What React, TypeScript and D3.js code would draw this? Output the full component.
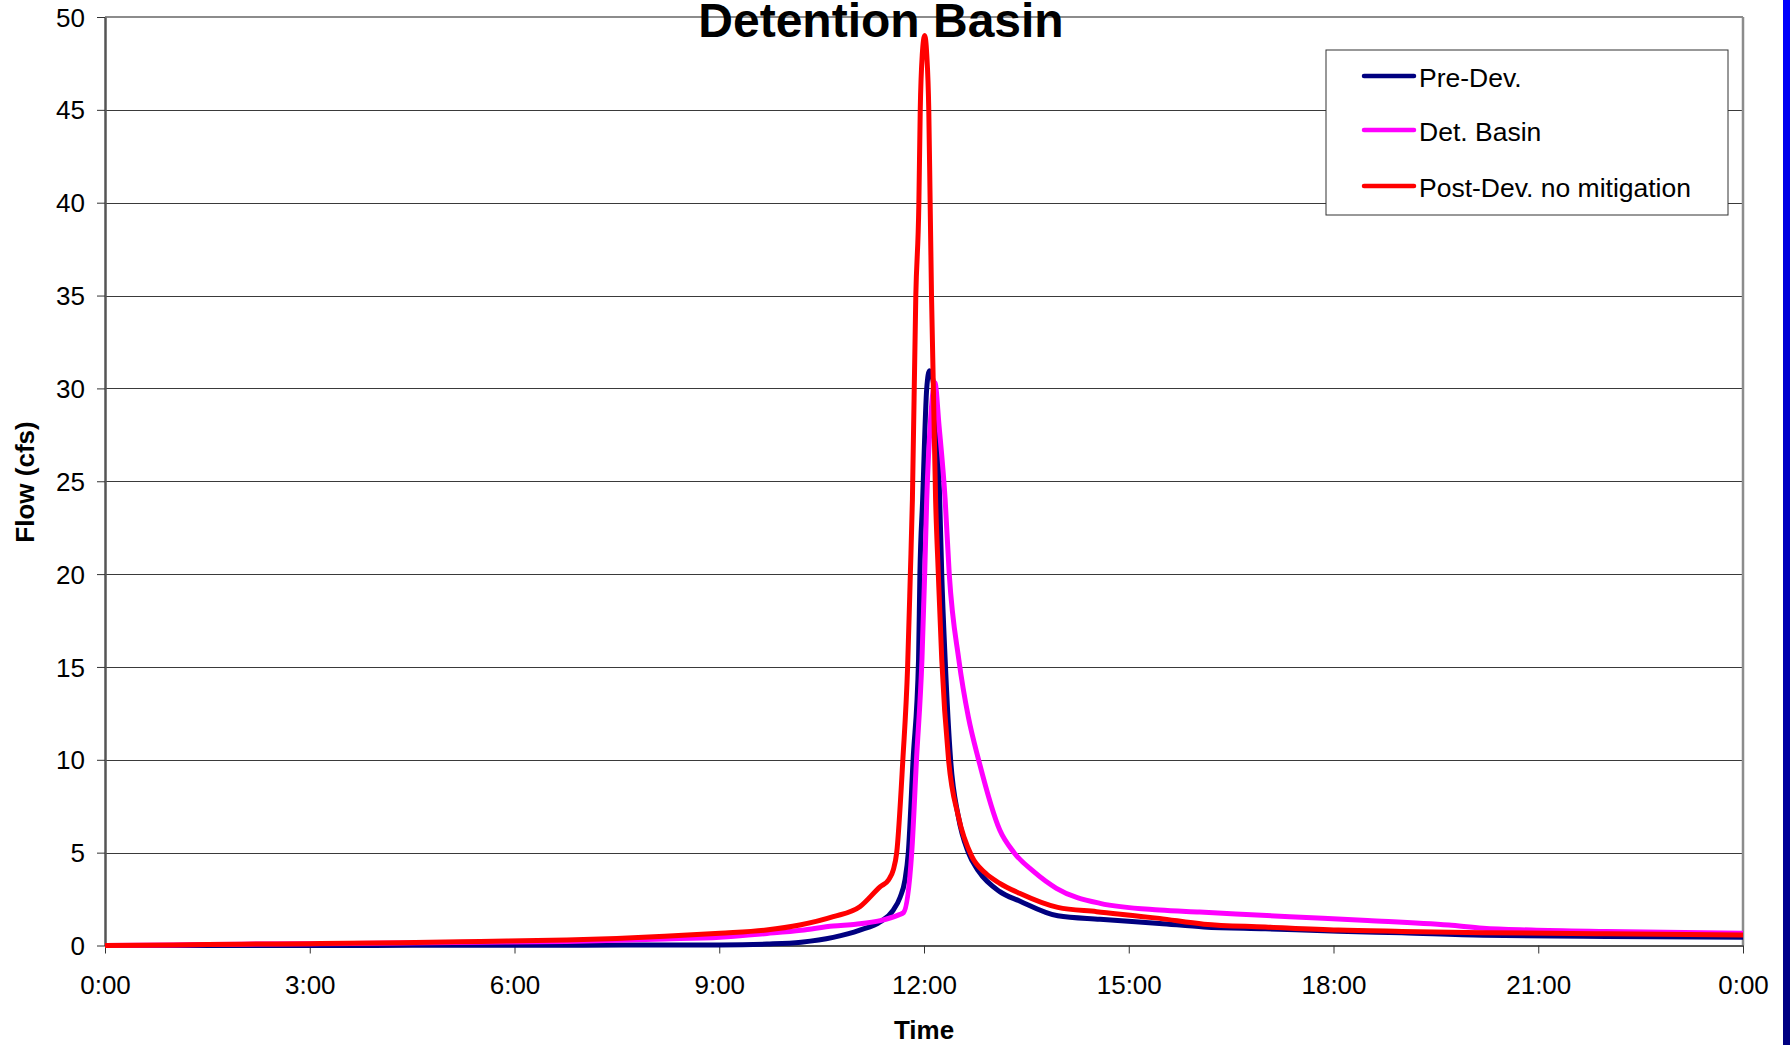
import React, { useRef, useEffect } from 'react';
import * as d3 from 'd3';

// time in hours from 0:00, flow in cfs
const preDevT = [0, 3, 4.5, 7, 9, 9.7, 10.2, 10.67, 11.06, 11.36, 11.55, 11.65, 11.72, 11.77, 11.84, 11.92, 11.94, 11.98, 12.04, 12.08, 12.15, 12.23, 12.26, 12.31, 12.39, 12.5, 12.65, 12.8, 13.11, 13.4, 13.96, 14.58, 15.45, 16.1, 17, 18.07, 19, 20.19, 22, 24];
const preDevQ = [0, 0, 0.01, 0.02, 0.03, 0.08, 0.18, 0.44, 0.83, 1.28, 1.91, 2.6, 3.5, 5, 10, 15.4, 20, 24, 30, 30.95, 30, 24, 20, 15.4, 10, 7, 5, 4.0, 2.9, 2.4, 1.6, 1.41, 1.19, 1.0, 0.9, 0.77, 0.68, 0.55, 0.49, 0.44];

const basinT = [0, 1, 2, 3, 4.32, 5.5, 6.76, 7.5, 8.2, 9.01, 9.7, 10.2, 10.67, 11.0, 11.36, 11.63, 11.7, 11.82, 11.89, 11.97, 12.01, 12.04, 12.1, 12.16, 12.22, 12.31, 12.37, 12.51, 12.65, 12.8, 13.11, 13.32, 13.6, 13.94, 14.58, 15.45, 16.04, 17.36, 18.5, 19.69, 20.19, 20.9, 22, 24];
const basinQ = [0, 0.03, 0.07, 0.1, 0.13, 0.17, 0.22, 0.28, 0.35, 0.45, 0.65, 0.82, 1.05, 1.15, 1.34, 1.65, 1.77, 5, 10, 15.4, 20, 24, 28.5, 30.3, 28, 24, 20, 15.4, 12.3, 10, 6.22, 5, 4.0, 3.08, 2.27, 1.91, 1.8, 1.55, 1.35, 1.1, 0.93, 0.83, 0.75, 0.66];

const postDevT = [0, 1, 2, 3, 4.32, 5.5, 6.76, 7.5, 8.2, 9.01, 9.69, 10.18, 10.67, 11.06, 11.36, 11.48, 11.55, 11.6, 11.69, 11.76, 11.8, 11.83, 11.88, 11.925, 11.945, 11.975, 12.01, 12.04, 12.07, 12.09, 12.11, 12.17, 12.21, 12.26, 12.36, 12.5, 12.7, 12.9, 13.11, 13.4, 13.96, 14.53, 15.45, 16.1, 17, 18.07, 19, 20.19, 22, 24];
const postDevQ = [0, 0.03, 0.07, 0.1, 0.15, 0.22, 0.3, 0.38, 0.5, 0.66, 0.83, 1.1, 1.55, 2.09, 3.17, 3.53, 4.07, 5, 10, 15, 20, 24, 35, 40, 45, 48, 49, 48, 45, 40, 35, 24, 20, 15.4, 10, 7, 4.8, 3.9, 3.35, 2.81, 2.05, 1.82, 1.46, 1.15, 1.0, 0.83, 0.76, 0.69, 0.63, 0.57];

const seriesNames = ['Pre-Dev.', 'Det. Basin', 'Post-Dev. no mitigation'];
const seriesColors = ['#000080', '#ff00ff', '#ff0000'];
const yTicks = [0, 5, 10, 15, 20, 25, 30, 35, 40, 45, 50];
const xTicks = [0, 3, 6, 9, 12, 15, 18, 21, 24];
const xTickLabels = ['0:00', '3:00', '6:00', '9:00', '12:00', '15:00', '18:00', '21:00', '0:00'];

const FONT = '"Liberation Sans", Arial, sans-serif';

const App = () => {
  const ref = useRef(null);

  useEffect(() => {
    const svg = d3.select(ref.current);
    svg.selectAll('*').remove();

    const left = 105, right = 1743, top = 17, bottom = 945.5;

    const x = d3.scaleLinear().domain([0, 24]).range([left, right]);
    const y = d3.scaleLinear().domain([0, 50]).range([bottom, top]);

    // right edge blue strip
    const grad = svg.append('defs').append('linearGradient')
      .attr('id', 'edge').attr('x1', 0).attr('y1', 0).attr('x2', 0).attr('y2', 1);
    grad.append('stop').attr('offset', '0%').attr('stop-color', '#0000ff');
    grad.append('stop').attr('offset', '100%').attr('stop-color', '#000080');
    svg.append('rect').attr('x', 1783).attr('y', 0).attr('width', 7).attr('height', 1045).attr('fill', 'url(#edge)');

    // gridlines
    svg.append('g').selectAll('line').data(yTicks.slice(1, -1)).join('line')
      .attr('x1', left).attr('x2', right)
      .attr('y1', d => Math.round(y(d)) + 0.5).attr('y2', d => Math.round(y(d)) + 0.5)
      .attr('stroke', '#3a3a3a').attr('stroke-width', 1);

    // plot border
    svg.append('line').attr('x1', left).attr('x2', right).attr('y1', top).attr('y2', top)
      .attr('stroke', '#8c8c8c').attr('stroke-width', 2);
    svg.append('line').attr('x1', right).attr('x2', right).attr('y1', top).attr('y2', bottom)
      .attr('stroke', '#8c8c8c').attr('stroke-width', 2.5);

    // y axis
    const yAxis = svg.append('g').attr('transform', `translate(${left},0)`)
      .call(d3.axisLeft(y).tickValues(yTicks).tickSize(8).tickSizeOuter(0));
    yAxis.select('.domain').attr('stroke', '#555').attr('stroke-width', 2.5);
    yAxis.selectAll('.tick line').attr('stroke', '#333');
    yAxis.selectAll('.tick text').attr('font-family', FONT).attr('font-size', 26)
      .attr('fill', '#000').attr('x', -20).attr('dy', '0.35em');

    // x axis
    const xAxis = svg.append('g').attr('transform', `translate(0,${bottom})`)
      .call(d3.axisBottom(x).tickValues(xTicks).tickSize(8).tickSizeOuter(0)
        .tickFormat((d, i) => xTickLabels[i]));
    xAxis.select('.domain').attr('stroke', '#555').attr('stroke-width', 2);
    xAxis.selectAll('.tick line').attr('stroke', '#333');
    xAxis.selectAll('.tick text').attr('font-family', FONT).attr('font-size', 26)
      .attr('fill', '#000').attr('y', 30).attr('dy', '0.71em');

    // series
    const allT = [preDevT, basinT, postDevT];
    const allQ = [preDevQ, basinQ, postDevQ];
    const line = d3.line().x(d => x(d[0])).y(d => y(d[1])).curve(d3.curveMonotoneX);
    allT.forEach((ts, i) => {
      const pts = ts.map((t, j) => [t, allQ[i][j]]);
      svg.append('path').datum(pts)
        .attr('fill', 'none')
        .attr('stroke', seriesColors[i])
        .attr('stroke-width', 5)
        .attr('stroke-linejoin', 'round')
        .attr('d', line);
    });

    // legend
    const lg = svg.append('g');
    lg.append('rect').attr('x', 1326).attr('y', 50).attr('width', 402).attr('height', 165)
      .attr('fill', '#fff').attr('stroke', '#333').attr('stroke-width', 1);
    const rowY = [76, 130, 186];
    seriesNames.forEach((name, i) => {
      lg.append('line').attr('x1', 1364).attr('x2', 1414).attr('y1', rowY[i]).attr('y2', rowY[i])
        .attr('stroke', seriesColors[i]).attr('stroke-width', 4.5).attr('stroke-linecap', 'round');
      lg.append('text').attr('x', 1419).attr('y', rowY[i] + 11)
        .attr('font-family', FONT).attr('font-size', 26.5).attr('fill', '#000').text(name);
    });

    // titles
    svg.append('text').attr('x', 881).attr('y', 37).attr('text-anchor', 'middle')
      .attr('font-family', FONT).attr('font-size', 48).attr('font-weight', 'bold').text('Detention Basin');
    svg.append('text').attr('x', 924).attr('y', 1039).attr('text-anchor', 'middle')
      .attr('font-family', FONT).attr('font-size', 26).attr('font-weight', 'bold').text('Time');
    svg.append('text').attr('transform', 'translate(34,482) rotate(-90)').attr('text-anchor', 'middle')
      .attr('font-family', FONT).attr('font-size', 26).attr('font-weight', 'bold').text('Flow (cfs)');
  }, []);

  return (
    <div style={{ position: 'absolute', left: 0, top: 0 }}>
      <svg ref={ref} width={1790} height={1045} style={{ display: 'block', background: '#fff' }}></svg>
    </div>
  );
};

export default App;
